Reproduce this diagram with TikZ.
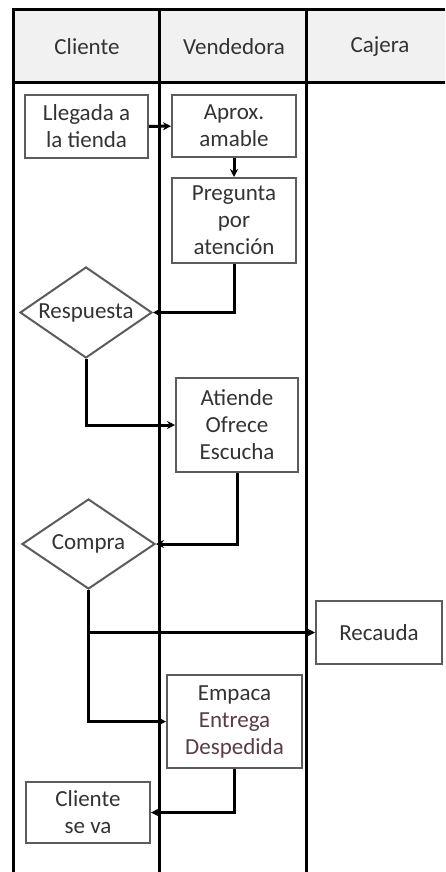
\documentclass[tikz,border=0pt]{standalone}
\usepackage{fontspec}
\setmainfont{Carlito}
\usetikzlibrary{shapes.geometric, arrows.meta, positioning, calc}
\definecolor{boxgray}{HTML}{5c5c5c}
\definecolor{textgray}{HTML}{333333}
\definecolor{headfill}{HTML}{f1f1f1}
\definecolor{redgray}{HTML}{5a3c46}

\begin{document}
\begin{tikzpicture}[
  x=1pt, y=-1pt,
  font=\fontsize{23}{27}\selectfont,
  block/.style={rectangle, draw=boxgray, line width=2pt, fill=white, text=textgray, align=center, inner sep=0pt},
  decision/.style={diamond, draw=boxgray, line width=2pt, fill=white, text=textgray, aspect=1.45, inner sep=0pt},
  lane/.style={line width=3pt, black},
  header/.style={text=textgray},
  arrow/.style={-{Stealth[length=8pt,width=8pt]}, line width=3pt, black}
]
\useasboundingbox (0,0) rectangle (445,872);

% swimlanes
\fill[headfill] (13,10) rectangle (445,83);
\draw[lane] (12,10) -- (445,10);
\draw[lane] (12,83) -- (445,83);
\draw[lane] (13,10) -- (13,872);
\draw[lane] (159,10) -- (159,872);
\draw[lane] (306,10) -- (306,872);

\node[header] (hcli) at (87,47) {Cliente};
\node[header] (hven) at (234,47) {Vendedora};
\node[header] (hcaj) at (380,47) {Cajera};

% steps
\node[block, minimum width=123pt, minimum height=63pt] (llegada) at (86.5,126.5) {Llegada a\\la tienda};
\node[block, minimum width=124pt, minimum height=62pt] (aprox) at (234,126) {Aprox.\\amable};
\node[block, minimum width=124pt, minimum height=85pt] (pregunta) at (234,220.5) {Pregunta\\por\\atención};
\node[decision, minimum width=132pt, minimum height=91pt] (respuesta) at (86,312.5) {Respuesta};
\node[block, minimum width=122pt, minimum height=94pt] (atiende) at (237,425) {Atiende\\Ofrece\\Escucha};
\node[decision, minimum width=133pt, minimum height=90pt] (compra) at (88.5,544) {Compra};
\node[block, minimum width=126pt, minimum height=63pt] (recauda) at (379,632.5) {Recauda};
\node[block, minimum width=135pt, minimum height=93pt] (empaca) at (234.5,721.5) {Empaca\\\textcolor{redgray}{Entrega}\\\textcolor{redgray}{Despedida}};
\node[block, minimum width=124pt, minimum height=61pt] (seva) at (88,812.5) {Cliente\\se va};

% flow
\draw[arrow] (llegada) -- (aprox);
\draw[arrow] (aprox) -- (pregunta);
\draw[arrow] (pregunta.south) |- (respuesta.east);
\draw[arrow] (respuesta.south) |- (atiende.west);
\draw[arrow] (atiende.south) |- (compra.east);
\draw[arrow] (compra.south) |- (recauda.west);
\draw[arrow] (compra.south) |- (empaca.west);
\draw[arrow] (empaca.south) |- (seva.east);
\end{tikzpicture}
\end{document}
